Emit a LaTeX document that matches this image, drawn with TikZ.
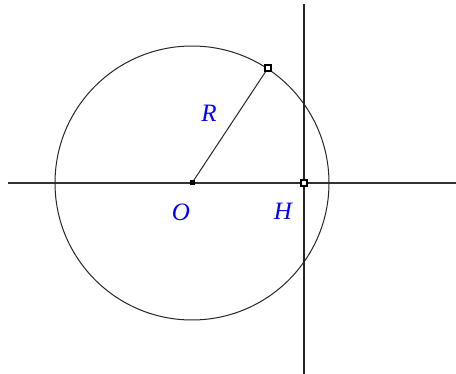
\documentclass[tikz,border=0pt]{standalone}
\usepackage{fontspec}
\setmainfont{Liberation Serif}
\begin{document}
\begin{tikzpicture}[x=1pt, y=-1pt,
    lbl/.style={text=blue, font=\fontsize{25}{25}\selectfont\itshape, inner sep=0pt},
    ptbox/.style={draw, line width=1.2pt, fill=white, minimum size=6pt, inner sep=0pt},
    ptdot/.style={fill=black, minimum size=5pt, inner sep=0pt}]
    \useasboundingbox (0,0) rectangle (456,374);

    % Points
    \coordinate (O) at (192,183);
    \coordinate (M) at (268,68);
    \coordinate (H) at (304,183);

    % Axes
    \coordinate (xl) at (8,183);
    \coordinate (xr) at (456,183);
    \coordinate (yt) at (304,4);
    \coordinate (yb) at (304,374);
    \draw[line width=1.6pt, black!80] (xl) -- (xr);
    \draw[line width=1.6pt, black!85] (yt) -- (yb);

    % Circle and radius
    \draw[line width=1pt, black!85] (O) circle (137);
    \draw[line width=1pt, black!85] (O) -- (M);

    % Markers
    \node[ptdot] (Odot) at (O) {};
    \node[ptbox] (Mbox) at (M) {};
    \node[ptbox] (Hbox) at (H) {};

    % Labels
    \node[lbl] (Olbl) at (181,212) {O};
    \node[lbl] (Hlbl) at (283,211) {H};
    \node[lbl] (Rlbl) at (209,113) {R};
\end{tikzpicture}
\end{document}
